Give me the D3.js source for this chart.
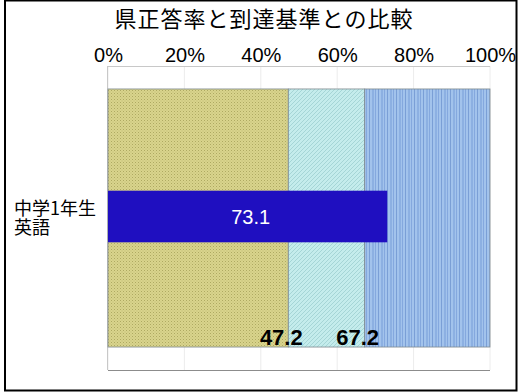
<!DOCTYPE html>
<html><head><meta charset="utf-8">
<script src="https://cdn.jsdelivr.net/npm/d3@7"></script>
<style>html,body{margin:0;padding:0;background:#fff;}svg{display:block;}</style>
</head><body>
<script>
const title = "県正答率と到達基準との比較";
const categories = ["中学1年生\n英語"];
const standardSegments = [47.2, 20.0, 32.8];   // stacked bands: 0–47.2, 47.2–67.2, 67.2–100
const standardLabels = [47.2, 67.2];
const prefScore = [73.1];
const tickValues = [0, 20, 40, 60, 80, 100];
const tickLabels = ["0%", "20%", "40%", "60%", "80%", "100%"];

(function(){
const W = 518, H = 392;
const svg = d3.select("body").append("svg").attr("width", W).attr("height", H);
const defs = svg.append("defs");

const p1 = defs.append("pattern").attr("id","pKhaki").attr("width",3).attr("height",3).attr("patternUnits","userSpaceOnUse");
p1.append("rect").attr("width",3).attr("height",3).attr("fill","#d9d48c");
p1.append("rect").attr("x",0).attr("y",0).attr("width",1).attr("height",1).attr("fill","#aea962");
p1.append("rect").attr("x",1.5).attr("y",1.5).attr("width",1).attr("height",1).attr("fill","#c0bb76");

const p2 = defs.append("pattern").attr("id","pCyan").attr("width",4).attr("height",4).attr("patternUnits","userSpaceOnUse");
p2.append("rect").attr("width",4).attr("height",4).attr("fill","#c4ecec");
p2.append("path").attr("d","M0,4 L4,0").attr("stroke","#98cccd").attr("stroke-width",0.7);

const p3 = defs.append("pattern").attr("id","pBlue").attr("width",9).attr("height",4).attr("patternUnits","userSpaceOnUse");
p3.append("rect").attr("width",9).attr("height",4).attr("fill","#a2c3ec");
p3.append("rect").attr("x",0).attr("width",1).attr("height",4).attr("fill","#7a9fd6");
p3.append("rect").attr("x",3).attr("width",2).attr("height",4).attr("fill","#8cb0e2");
p3.append("rect").attr("x",6).attr("width",1).attr("height",4).attr("fill","#84a8de");
const fills = ["url(#pKhaki)","url(#pCyan)","url(#pBlue)"];

svg.append("rect").attr("x",5).attr("y",0.5).attr("width",511.5).attr("height",390)
  .attr("fill","none").attr("stroke","#000").attr("stroke-width",2);

const pl = 108, pr = 490, pt = 66, pb = 370;
const x = d3.scaleLinear().domain([0,100]).range([pl,pr]);
const y = d3.scaleBand().domain(categories).range([pt,pb]).paddingInner(0).paddingOuter(0.089);

svg.append("text").attr("x",264).attr("y",27).attr("text-anchor","middle")
  .attr("font-family","'Noto Sans CJK JP', sans-serif").attr("font-size",22).attr("letter-spacing",1)
  .attr("fill","#000").text(title);

svg.append("g").selectAll("line").data(tickValues).join("line")
  .attr("x1",d=>x(d)).attr("x2",d=>x(d)).attr("y1",pt).attr("y2",pb)
  .attr("stroke","#ececec").attr("stroke-width",1);

svg.append("line").attr("x1",pl).attr("x2",pr).attr("y1",pt+0.5).attr("y2",pt+0.5).attr("stroke","#c8c8c8");
svg.append("line").attr("x1",pl-0.5).attr("x2",pl-0.5).attr("y1",pt).attr("y2",pb).attr("stroke","#c8c8c8");
svg.append("line").attr("x1",pl).attr("x2",pr).attr("y1",pb+0.5).attr("y2",pb+0.5).attr("stroke","#8c8c8c");

const axis = d3.axisTop(x).tickValues(tickValues).tickFormat((d,i)=>tickLabels[i]).tickSize(0).tickPadding(0);
const ag = svg.append("g").attr("transform",`translate(0,${62})`).call(axis);
ag.select(".domain").remove();
ag.selectAll("text").attr("font-family","'Liberation Sans', Arial, sans-serif").attr("font-size",20).attr("fill","#000").attr("dy",0);

const stack = [];
let acc = 0;
standardSegments.forEach((v,i)=>{ stack.push({x0:acc,x1:acc+v,i}); acc+=v; });
categories.forEach(c=>{
  svg.append("g").selectAll("rect").data(stack).join("rect")
    .attr("x",d=>x(d.x0)).attr("width",d=>x(d.x1)-x(d.x0))
    .attr("y",y(c)).attr("height",y.bandwidth())
    .attr("fill",d=>fills[d.i]).attr("stroke","#7f8a8f").attr("stroke-width",0.8);
});

const barH = y.bandwidth()*0.2;
categories.forEach((c,k)=>{
  const cy = y(c)+y.bandwidth()/2 - 1.5;
  svg.append("rect").attr("x",x(0)).attr("width",x(prefScore[k])-x(0))
    .attr("y",cy-barH/2).attr("height",barH).attr("fill","#1f0fc0");
  svg.append("text").attr("x",(x(0)+x(prefScore[k]))/2+3).attr("y",cy+7.5)
    .attr("text-anchor","middle").attr("font-family","'Liberation Sans', Arial, sans-serif")
    .attr("font-size",20).attr("fill","#fff").text(prefScore[k]);
  const lines = c.split("\n");
  lines.forEach((ln,j)=>{
    svg.append("text").attr("font-family","'Noto Sans CJK JP', sans-serif").attr("font-size",18).attr("fill","#000")
      .attr("x",14).attr("y",cy-1.5+j*19).text(ln);
  });
  svg.append("g").selectAll("text").data(standardLabels).join("text")
    .attr("x",d=>x(d)-7).attr("y",y(c)+y.bandwidth()-2)
    .attr("text-anchor","middle").attr("font-family","'Liberation Sans Narrow','Liberation Sans', Arial, sans-serif")
    .attr("font-weight","bold").attr("font-size",22).attr("fill","#000").text(d=>d.toFixed(1));
});
})();
</script>
</body></html>
